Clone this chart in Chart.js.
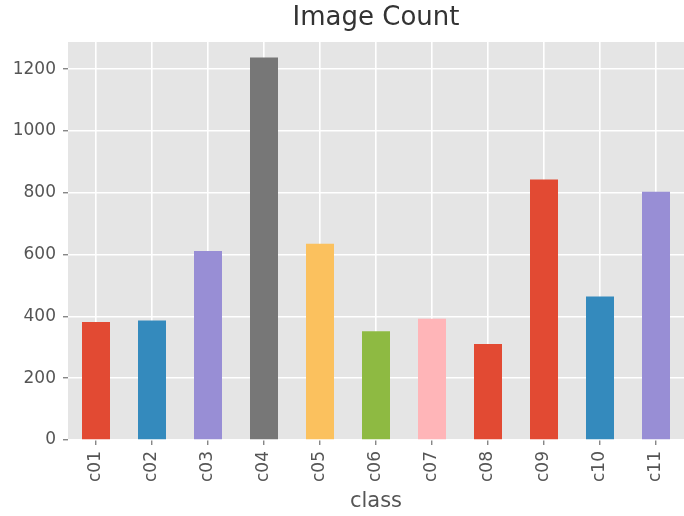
<!DOCTYPE html>
<html>
<head>
<meta charset="utf-8">
<script src="https://cdn.jsdelivr.net/npm/chart.js@4/dist/chart.umd.min.js"></script>
<style>
  html, body { margin: 0; padding: 0; background: #fff; }
  #wrap { width: 684px; height: 516px; }
</style>
</head>
<body>
<div id="wrap"><canvas id="bar-chart"></canvas></div>
<script>
const classes = ["c01", "c02", "c03", "c04", "c05", "c06", "c07", "c08", "c09", "c10", "c11"];
const counts = [382, 387, 612, 1238, 635, 352, 392, 311, 843, 464, 803];
const barColors = ["#E24A33", "#348ABD", "#988ED5", "#777777", "#FBC15E", "#8EBA42",
                   "#FFB5B8", "#E24A33", "#E24A33", "#348ABD", "#988ED5"];
const yTicks = [0, 200, 400, 600, 800, 1000, 1200];

// grey panel behind the bars, ggplot style
const panelBg = {
  id: 'panelBg',
  beforeDraw(chart) {
    const { ctx, chartArea: a } = chart;
    ctx.save();
    ctx.fillStyle = '#E5E5E5';
    ctx.fillRect(a.left, a.top, a.right - a.left, a.bottom - a.top);
    ctx.restore();
  }
};

const font = 'DejaVu Sans';

new Chart(document.querySelector('#bar-chart').getContext('2d'), {
  type: 'bar',
  data: {
    labels: classes,
    datasets: [{
      label: 'count',
      data: counts,
      backgroundColor: barColors,
      borderWidth: 0,
      categoryPercentage: 1,
      barPercentage: 0.5
    }]
  },
  options: {
    responsive: true,
    maintainAspectRatio: false,
    animation: false,
    layout: { padding: 0 },
    plugins: {
      legend: { display: false },
      tooltip: { enabled: false },
      title: {
        display: true,
        text: 'Image Count',
        fullSize: false,
        color: '#333333',
        font: { family: font, size: 26, weight: 'normal' },
        padding: { top: 3, bottom: 7.8 }
      }
    },
    scales: {
      x: {
        grid: { offset: false, color: '#ffffff', lineWidth: 1.6, tickColor: '#555555', tickLength: 5, tickWidth: 1 },
        border: { display: false },
        ticks: { color: '#555555', font: { family: font, size: 17 }, minRotation: 90, maxRotation: 90, padding: 6 },
        title: { display: true, text: 'class', color: '#555555', font: { family: font, size: 21 }, padding: { top: 0, bottom: 2 } },
        afterFit(scale) { scale.height = 76; }
      },
      y: {
        min: 0,
        max: 1288,
        grid: { color: '#ffffff', lineWidth: 1.6, tickColor: '#555555', tickLength: 5, tickWidth: 1 },
        border: { display: false },
        ticks: { color: '#555555', font: { family: font, size: 17 }, padding: 7, callback: v => String(v) },
        afterBuildTicks(scale) {
          scale.ticks = yTicks.map(v => ({ value: v }));
        },
        afterFit(scale) { scale.width = 68; }
      }
    }
  },
  plugins: [panelBg]
});
</script>
</body>
</html>
